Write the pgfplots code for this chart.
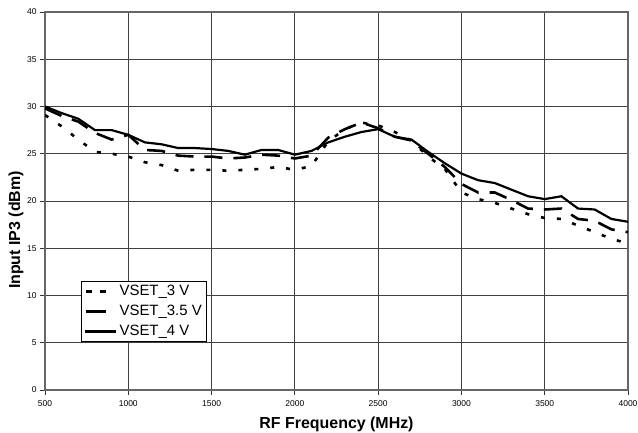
\documentclass[border=0pt]{standalone}
\usepackage{fontspec}
\setmainfont{Liberation Sans}
\usepackage{pgfplots}
\pgfplotsset{compat=1.18}
\pgfplotsset{
  legdot/.style={legend image code/.code={\draw[##1, dash pattern=on 6bp off 8bp] (1bp,0bp) -- (21bp,0bp);\path[draw=none] (0bp,0bp) -- (31bp,0bp);}},
  legdash/.style={legend image code/.code={\draw[##1, solid] (1bp,0bp) -- (21bp,0bp);\path[draw=none] (0bp,0bp) -- (31bp,0bp);}},
}
\begin{document}
\begin{tikzpicture}[x=1bp,y=1bp]
\path[use as bounding box] (0,0) rectangle (638,433);
\begin{axis}[
  at={(45bp,43bp)}, anchor=origin,
  scale only axis, width=583bp, height=378bp,
  xmin=500, xmax=4000, ymin=0, ymax=40,
  xtick={500,1000,...,4000}, ytick={0,5,...,40},
  grid=major,
  major grid style={draw=black!75, line width=0.8pt},
  axis line style={draw=black!60, line width=1.2pt},
  tick style={draw=black!80, line width=0.8pt},
  tick align=outside, major tick length=5bp,
  xtick pos=bottom, ytick pos=left,
  /pgf/number format/assume math mode=true,
  /pgf/number format/1000 sep={},
  ticklabel style={font=\fontsize{8.5}{10}\selectfont},
  xticklabel style={yshift=-2bp},
  xlabel={\textbf{RF Frequency (MHz)}},
  ylabel={\textbf{Input IP3 (dBm)}},
  xlabel style={font=\fontsize{16}{18}\selectfont, at={(axis description cs:0.5,0)}, anchor=base, yshift=-39bp},
  ylabel style={font=\fontsize{16}{18}\selectfont, at={([xshift=-29bp]axis description cs:0,0.423)}, anchor=center},
  legend style={at={(axis cs:716,11.53)}, anchor=north west, draw=black, line width=0.8pt,
    font=\fontsize{15}{17}\selectfont, inner xsep=3bp, inner ysep=0bp, row sep=0bp,
    nodes={inner ysep=3bp, inner xsep=2bp, text height=11bp, text depth=3bp}},
  legend cell align=left,
  legend image code/.code={\draw[#1] (0bp,0bp) -- (31bp,0bp);},
]
\addplot[black, line width=2.6pt, dash pattern=on 4bp off 12bp, legdot] coordinates {
(500,29.1)(600,27.9)(700,26.5)(800,25.2)(900,25.0)(1000,24.7)(1100,24.1)(1200,23.8)
(1300,23.2)(1400,23.3)(1500,23.3)(1600,23.2)(1700,23.3)(1800,23.4)(1900,23.6)(2000,23.3)
(2100,23.7)(2200,26.3)(2300,27.6)(2400,28.3)(2500,28.0)(2600,27.3)(2700,26.4)(2800,24.7)
(2900,23.4)(3000,20.9)(3100,20.2)(3200,19.8)(3300,19.2)(3400,18.6)(3500,18.2)(3600,18.1)
(3700,17.4)(3800,16.7)(3900,16.0)(4000,15.5)};
\addlegendentry{VSET\_3 V}
\addplot[black, line width=2.6pt, dash pattern=on 18bp off 11bp, legdash] coordinates {
(500,29.8)(600,29.0)(700,28.4)(800,27.2)(900,26.5)(1000,27.0)(1100,25.4)(1200,25.3)
(1300,24.8)(1400,24.7)(1500,24.7)(1600,24.5)(1700,24.6)(1800,24.9)(1900,24.8)(2000,24.5)
(2100,24.8)(2200,26.7)(2300,27.6)(2400,28.3)(2500,27.7)(2600,26.8)(2700,26.4)(2800,25.0)
(2900,23.6)(3000,21.8)(3100,20.9)(3200,20.9)(3300,20.1)(3400,19.2)(3500,19.1)(3600,19.2)
(3700,18.1)(3800,17.9)(3900,17.0)(4000,16.7)};
\addlegendentry{VSET\_3.5 V}
\addplot[black, line width=2.2pt] coordinates {
(500,30.0)(600,29.3)(700,28.7)(800,27.5)(900,27.5)(1000,27.0)(1100,26.2)(1200,26.0)
(1300,25.6)(1400,25.6)(1500,25.5)(1600,25.3)(1700,24.9)(1800,25.4)(1900,25.4)(2000,24.9)
(2100,25.3)(2200,26.2)(2300,26.8)(2400,27.3)(2500,27.6)(2600,26.8)(2700,26.5)(2800,25.2)
(2900,24.0)(3000,22.9)(3100,22.2)(3200,21.9)(3300,21.2)(3400,20.5)(3500,20.2)(3600,20.5)
(3700,19.2)(3800,19.1)(3900,18.1)(4000,17.8)};
\addlegendentry{VSET\_4 V}
\end{axis}
\end{tikzpicture}
\end{document}
